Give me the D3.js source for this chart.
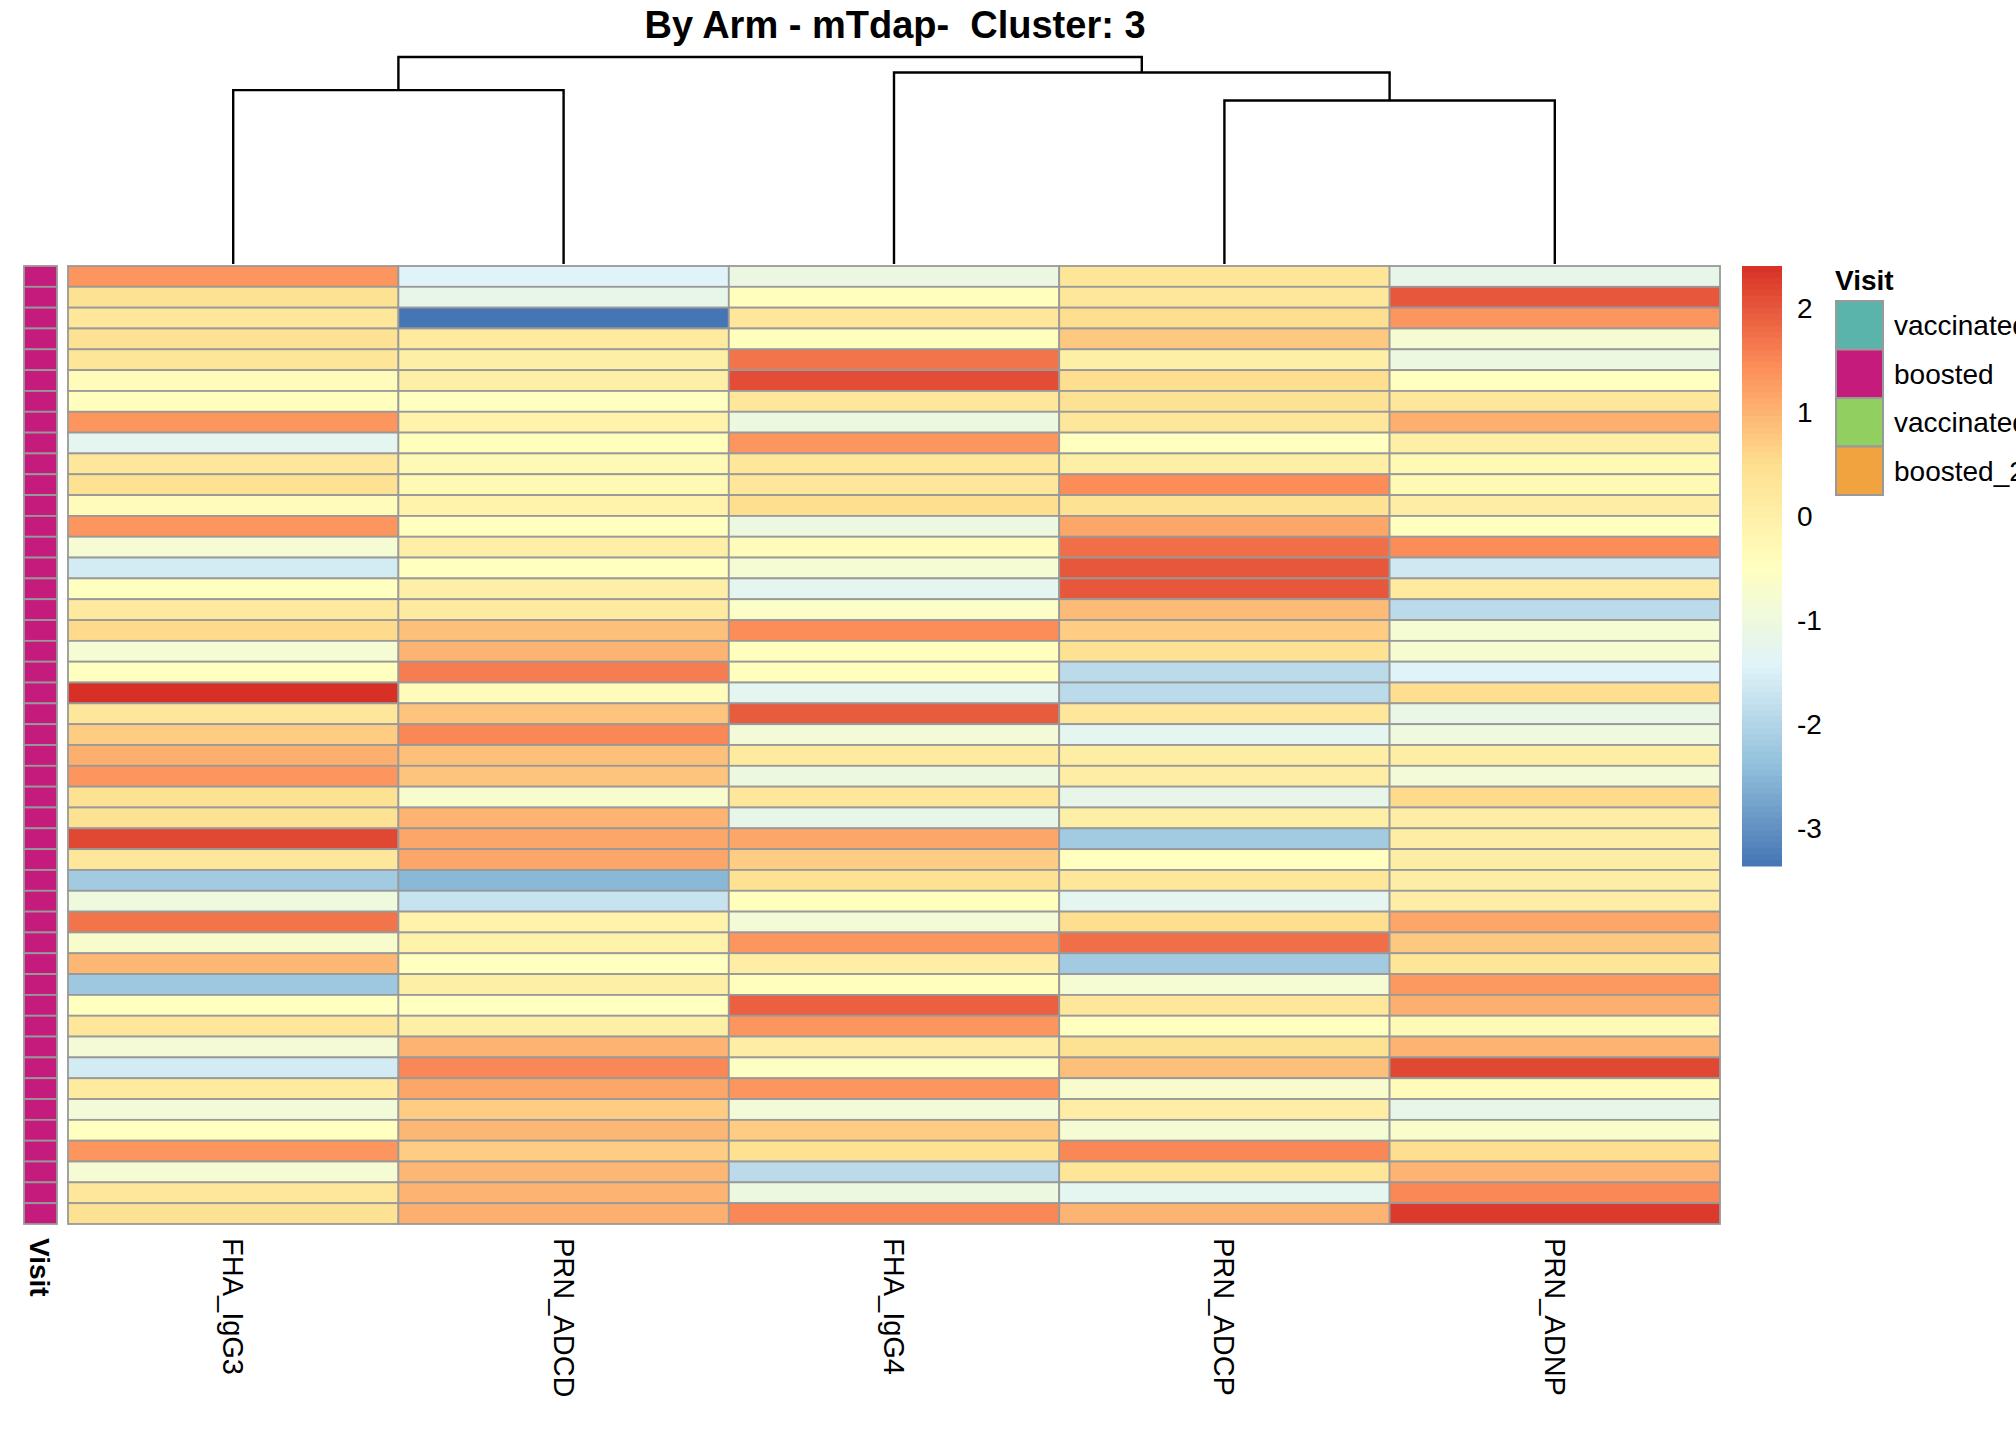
<!DOCTYPE html>
<html>
<head>
<meta charset="utf-8">
<script src="https://cdn.jsdelivr.net/npm/d3@7"></script>
<style>
  body { margin: 0; background: #fff; overflow: hidden; }
  text { font-family: "Liberation Sans", Arial, sans-serif; white-space: pre; }
</style>
</head>
<body>
<svg id="chart" width="2016" height="1440"></svg>
<script>
// column order as drawn
var columns = ['FHA_IgG3', 'PRN_ADCD', 'FHA_IgG4', 'PRN_ADCP', 'PRN_ADNP'];

// scaled values, one array per column, 46 samples (top to bottom)
var FHA_IgG3 = [1.35,0.4,0.25,0.4,0.3,-0.4,-0.45,1.35,-1.3,0.25,0.4,-0.4,1.35,-0.8,-1.6,-0.5,0.2,0.55,-0.8,-0.5,2.4,0.25,0.7,
  1.05,1.35,0.4,0.4,2.15,0.25,-2.2,-1.0,1.7,-0.7,0.95,-2.25,-0.5,0.25,-0.85,-1.6,0.15,-0.9,-0.5,1.35,-0.8,0.25,0.4];
var PRN_ADCD = [-1.45,-1.2,-3.37,0.15,0,0,-0.5,-0.1,-0.45,-0.3,-0.3,-0.1,-0.5,0,-0.5,0,0.15,0.85,1.0,1.6,-0.4,0.8,1.5,
  0.85,0.8,-0.7,1.0,1.15,1.15,-2.5,-1.75,-0.1,-0.1,-0.5,0,-0.5,0,1.0,1.5,1.15,0.7,0.95,0.7,0.95,1.0,1.05];
var FHA_IgG4 = [-1.1,-0.45,0.25,-0.45,1.7,2.1,0.25,-1.05,1.35,0.25,0.25,0.5,-1.05,-0.4,-0.8,-1.3,-0.6,1.45,-0.45,-0.45,-1.3,1.95,-0.9,
  0.15,-1.05,0.25,-1.2,1.15,0.7,0.4,-0.45,-0.9,1.35,0.05,-0.45,1.9,1.35,0.05,-0.55,1.35,-0.9,0.7,0.45,-1.9,-1.05,1.5];
var PRN_ADCP = [0.3,0.25,0.5,0.75,0,0.5,0.4,0.25,-0.5,0,1.45,0.4,1.15,1.75,2.0,2.0,0.9,0.7,0.4,-1.9,-1.9,0.25,-1.3,
  0.05,0.05,-1.2,0,-2.2,-0.5,0.25,-1.3,0.5,1.75,-2.2,-0.8,0.25,-0.5,0.4,0.85,-0.7,0.05,-0.8,1.5,0.3,-1.3,1.0];
var PRN_ADNP = [-1.2,2.0,1.35,-0.8,-1.05,-0.5,0.25,1.05,0,-0.3,-0.3,0.05,-0.5,1.45,-1.65,0.15,-1.9,-0.8,-0.75,-1.45,0.5,-1.15,-1.0,
  0.05,-0.9,0.55,0.05,0.05,0.05,0.05,0.05,1.15,0.75,0.3,1.3,1.05,-0.3,1.0,2.15,-0.35,-1.2,-0.65,0.5,1.0,1.5,2.3];
var values = [FHA_IgG3, PRN_ADCD, FHA_IgG4, PRN_ADCP, PRN_ADNP];

// every sample is in the "boosted" visit
var visitNames = ['vaccinated', 'boosted', 'vaccinated_2', 'boosted_2'];
var visitColors = ['#5AB4AC', '#C51B7D', '#91CF60', '#F1A340'];
var sampleVisit = d3.range(46).map(function () { return 'boosted'; });

// dendrogram merges: l/r in column units, h = merge height, hl/hr = child heights
var merges = [
  { l: 0, r: 1, h: 0.84, hl: 0, hr: 0 },
  { l: 3, r: 4, h: 0.79, hl: 0, hr: 0 },
  { l: 2, r: 3.5, h: 0.925, hl: 0, hr: 0.79 },
  { l: 0.5, r: 2.75, h: 1.0, hl: 0.84, hr: 0.925 }
];

var legendTicks = [2, 1, 0, -1, -2, -3];
var palette = ['#4575B4', '#91BFDB', '#E0F3F8', '#FFFFBF', '#FEE090', '#FC8D59', '#D73027'];
var vmin = -3.37, vmax = 2.40;

var svg = d3.select('#chart');
var nRows = values[0].length;

var x = d3.scaleBand().domain(d3.range(columns.length)).range([68, 1720]).paddingInner(0);
var y = d3.scaleBand().domain(d3.range(nRows)).range([266, 1224]);
var color = d3.scaleLinear()
  .domain(palette.map(function (c, i) { return vmin + i * (vmax - vmin) / (palette.length - 1); }))
  .range(palette);

// title
svg.append('text')
  .attr('x', 895).attr('y', 38)
  .attr('text-anchor', 'middle')
  .attr('font-size', 38).attr('font-weight', 'bold')
  .text('By Arm - mTdap-  Cluster: 3');

// dendrogram
var cx = function (p) { return x(0) + (p + 0.5) * x.bandwidth(); };
var dh = d3.scaleLinear().domain([0, 1]).range([264, 57]);
var dg = svg.append('g').attr('stroke', '#000').attr('stroke-width', 2.4).attr('fill', 'none');
merges.forEach(function (m) {
  dg.append('path').attr('d',
    'M' + cx(m.l) + ',' + dh(m.hl) + 'V' + dh(m.h) + 'H' + cx(m.r) + 'V' + dh(m.hr));
});

// heatmap cells
var cells = [];
values.forEach(function (col, j) {
  col.forEach(function (v, i) { cells.push({ c: j, r: i, v: v }); });
});
svg.append('g').selectAll('rect').data(cells).enter().append('rect')
  .attr('x', function (d) { return x(d.c); })
  .attr('y', function (d) { return y(d.r); })
  .attr('width', x.bandwidth())
  .attr('height', y.bandwidth())
  .attr('fill', function (d) { return color(d.v); })
  .attr('stroke', '#999').attr('stroke-width', 1.8);

// visit annotation column
var vcol = d3.scaleOrdinal().domain(visitNames).range(visitColors);
svg.append('g').selectAll('rect').data(sampleVisit).enter().append('rect')
  .attr('x', 24).attr('width', 33)
  .attr('y', function (d, i) { return y(i); })
  .attr('height', y.bandwidth())
  .attr('fill', function (d) { return vcol(d); })
  .attr('stroke', '#999').attr('stroke-width', 1.8);

svg.append('text')
  .attr('transform', 'translate(30,1238) rotate(90)')
  .attr('font-size', 28).attr('font-weight', 'bold')
  .text('Visit');

// column labels
svg.append('g').selectAll('text').data(columns).enter().append('text')
  .attr('transform', function (d, i) { return 'translate(' + (cx(i) - 10) + ',1238) rotate(90)'; })
  .attr('font-size', 29)
  .text(function (d) { return d; });

// colour bar
var cb = d3.scaleLinear().domain([vmax, vmin]).range([266, 866]);
var steps = d3.range(100).map(function (i) { return vmax - i * (vmax - vmin) / 100; });
svg.append('g').selectAll('rect').data(steps).enter().append('rect')
  .attr('x', 1742).attr('width', 40)
  .attr('y', function (d) { return cb(d); })
  .attr('height', 600 / 100 + 0.5)
  .attr('fill', function (d) { return color(d - (vmax - vmin) / 200); });
svg.append('g').selectAll('text').data(legendTicks).enter().append('text')
  .attr('x', 1797)
  .attr('y', function (d) { return cb(d) + 10; })
  .attr('font-size', 28)
  .text(function (d) { return d; });

// visit legend
svg.append('text')
  .attr('x', 1835).attr('y', 290)
  .attr('font-size', 28).attr('font-weight', 'bold')
  .text('Visit');
var lg = svg.append('g').selectAll('g').data(visitNames).enter().append('g')
  .attr('transform', function (d, i) { return 'translate(1836,' + (301 + i * 48.5) + ')'; });
lg.append('rect')
  .attr('width', 47).attr('height', 48.5)
  .attr('fill', function (d) { return vcol(d); })
  .attr('stroke', '#999').attr('stroke-width', 2);
lg.append('text')
  .attr('x', 58).attr('y', 34)
  .attr('font-size', 28)
  .text(function (d) { return d; });
</script>
</body>
</html>
